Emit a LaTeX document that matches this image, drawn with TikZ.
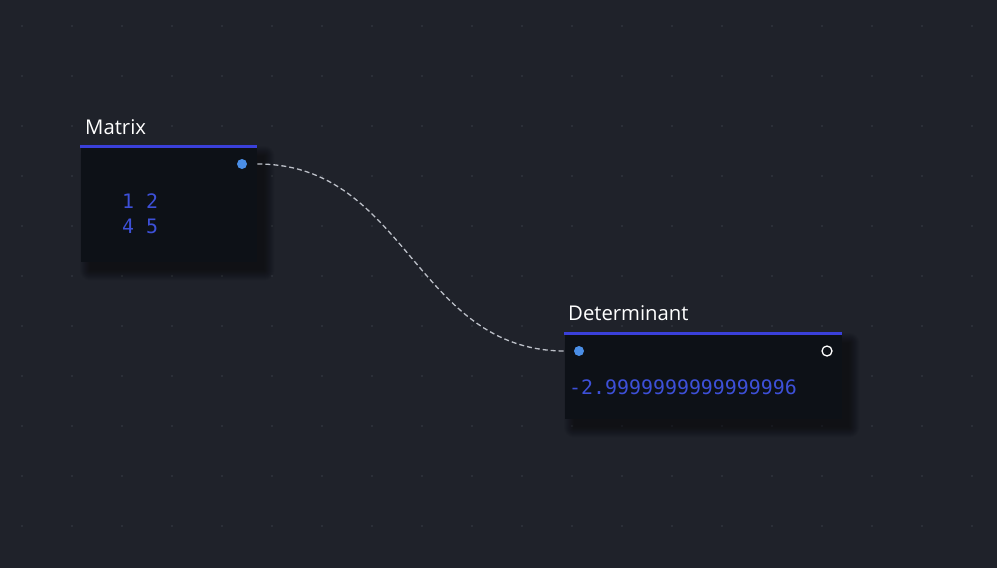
\documentclass[tikz,border=0pt]{standalone}
\usepackage{fontspec}
\setmainfont{Open Sans}
\newfontfamily\codefont{DejaVu Sans Mono}
\usetikzlibrary{calc}
\definecolor{bgc}{HTML}{1F222A}
\definecolor{bodyc}{HTML}{0D1117}
\definecolor{hdrc}{HTML}{3A40DA}
\definecolor{valc}{HTML}{3D50D8}
\definecolor{portc}{HTML}{4A8EE6}
\definecolor{gridc}{HTML}{30343E}
\definecolor{wirec}{HTML}{BCC0C8}
\tikzset{
  body/.style={fill=bodyc, draw=none, rectangle, inner sep=0pt, anchor=north west},
  hdr/.style={draw=hdrc, line width=3pt},
  ttl/.style={text=white, font=\fontsize{20.3}{24}\selectfont, anchor=base west, inner sep=0pt},
  val/.style={text=valc, font=\codefont\fontsize{19.9}{24}\selectfont, anchor=base west, inner sep=0pt},
  inport/.style={circle, fill=portc, draw=none, minimum size=10pt, inner sep=0pt},
  outport/.style={circle, draw=white, line width=1.3pt, fill=bodyc, minimum size=10pt, inner sep=0pt},
  wire/.style={draw=wirec, line width=1.3pt, dash pattern=on 5pt off 3pt},
}
\newcommand{\nshadow}[1]{%
  \foreach \k in {0,...,10}{
    \fill[black, opacity=0.045, rounded corners=\k pt]
      ($(#1.north west)+(9-\k,9-\k)$) rectangle ($(#1.south east)+(7+\k,8+\k)$);
  }}
\begin{document}
\begin{tikzpicture}[x=1pt, y=-1pt]
\fill[bgc] (0,0) rectangle (997,568);
\useasboundingbox (0,0) rectangle (997,568);
% grid
\foreach \gx in {22,72,...,972}{
  \foreach \gy in {26,76,...,526}{
    \fill[gridc] (\gx,\gy) circle (1.2pt);
  }}
% Matrix node
\path (81,147) node[body, minimum width=176pt, minimum height=115pt] (mbody) {};
\nshadow{mbody}
\path (81,147) node[body, minimum width=176pt, minimum height=115pt] (mbody2) {};
\draw[hdr] ($(mbody.north west)+(-1,-1)$) -- ($(mbody.north east)+(0,-1)$);
\node[ttl] (mtitle) at (85,134) {Matrix};
\node[val] (mrow1) at (122,208) {1 2};
\node[val] (mrow2) at (122,233) {4 5};
\node[inport] (mout) at (242,164) {};
% Determinant node
\path (565,334) node[body, minimum width=277pt, minimum height=85pt] (dbody) {};
\nshadow{dbody}
\path (565,334) node[body, minimum width=277pt, minimum height=85pt] (dbody2) {};
\draw[hdr] ($(dbody.north west)+(-1,-1)$) -- ($(dbody.north east)+(0,-1)$);
\node[ttl] (dtitle) at (568,320) {Determinant};
\node[val] (dval) at (569,394) {-2.9999999999999996};
\node[inport] (din) at (579,351) {};
\node[outport] (dout) at (827,351) {};
% connector
\coordinate (wa) at (mbody.east |- mout);
\coordinate (wb) at (dbody.west |- din);
\draw[wire] (wa) .. controls +(150,0) and +(-150,0) .. (wb);
\end{tikzpicture}
\end{document}
